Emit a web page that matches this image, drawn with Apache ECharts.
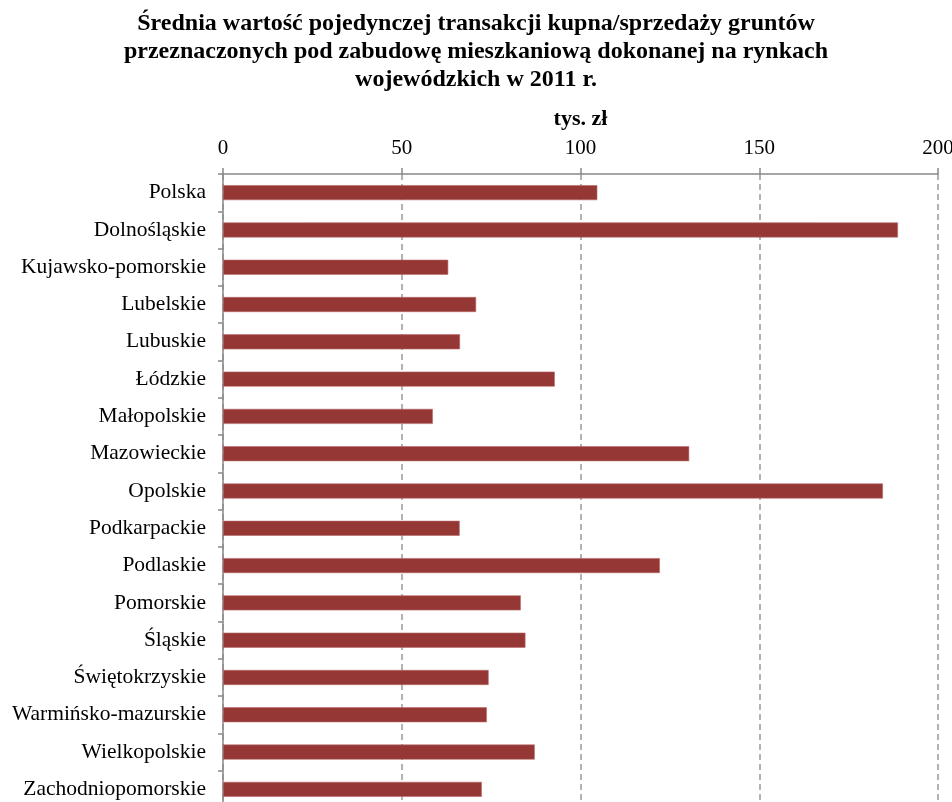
<!DOCTYPE html>
<html>
<head>
<meta charset="utf-8">
<script src="https://cdn.jsdelivr.net/npm/echarts@6/dist/echarts.min.js"></script>
<style>html,body{margin:0;padding:0;background:#fff}#c{width:952px;height:802px}</style>
</head>
<body>
<div id="c"></div>
<script>
const categories = ["Polska","Dolnośląskie","Kujawsko-pomorskie","Lubelskie","Lubuskie","Łódzkie","Małopolskie","Mazowieckie","Opolskie","Podkarpackie","Podlaskie","Pomorskie","Śląskie","Świętokrzyskie","Warmińsko-mazurskie","Wielkopolskie","Zachodniopomorskie"];
const values = [104.7,188.8,63.0,70.8,66.3,92.8,58.7,130.4,184.6,66.2,122.2,83.3,84.6,74.3,73.8,87.2,72.4];
const titleText = "Średnia wartość pojedynczej transakcji kupna/sprzedaży gruntów\nprzeznaczonych pod zabudowę mieszkaniową dokonanej na rynkach\nwojewódzkich w 2011 r.";
const axisName = "tys. zł";

const chart = echarts.init(document.getElementById('c'), null, {renderer:'canvas'});
const serif = '"Liberation Serif","Times New Roman",serif';
chart.setOption({
  animation:false,
  backgroundColor:'#fff',
  title:{
    text:titleText, left:'center', top:5,
    textStyle:{fontFamily:serif, fontSize:24, fontWeight:'bold', color:'#000', lineHeight:28}
  },
  grid:{left:223, width:715, top:174, height:634, containLabel:false, outerBoundsMode:'none'},
  xAxis:{
    type:'value', position:'top', min:0, max:200, interval:50,
    name:axisName, nameLocation:'middle', nameGap:44,
    nameTextStyle:{fontFamily:serif, fontSize:22, fontWeight:'bold', color:'#000'},
    axisLine:{show:true, lineStyle:{color:'#888', width:1.5}},
    axisTick:{show:true, length:6, lineStyle:{color:'#888', width:1.5}},
    axisLabel:{fontFamily:serif, fontSize:21, color:'#000', margin:15},
    splitLine:{show:true, lineStyle:{color:'#999', type:[6,4], width:1.5}}
  },
  yAxis:{
    type:'category', data:categories, inverse:true,
    axisLine:{show:true, lineStyle:{color:'#888', width:1.5}},
    axisTick:{show:true, length:5, lineStyle:{color:'#888', width:1.5}},
    axisLabel:{fontFamily:serif, fontSize:21.5, color:'#000', margin:17},
    splitLine:{show:false}
  },
  series:[{
    type:'bar', data:values, barWidth:15,
    itemStyle:{color:'#953735', borderColor:'#b86a68', borderWidth:0.6}
  }]
});
</script>
</body>
</html>
